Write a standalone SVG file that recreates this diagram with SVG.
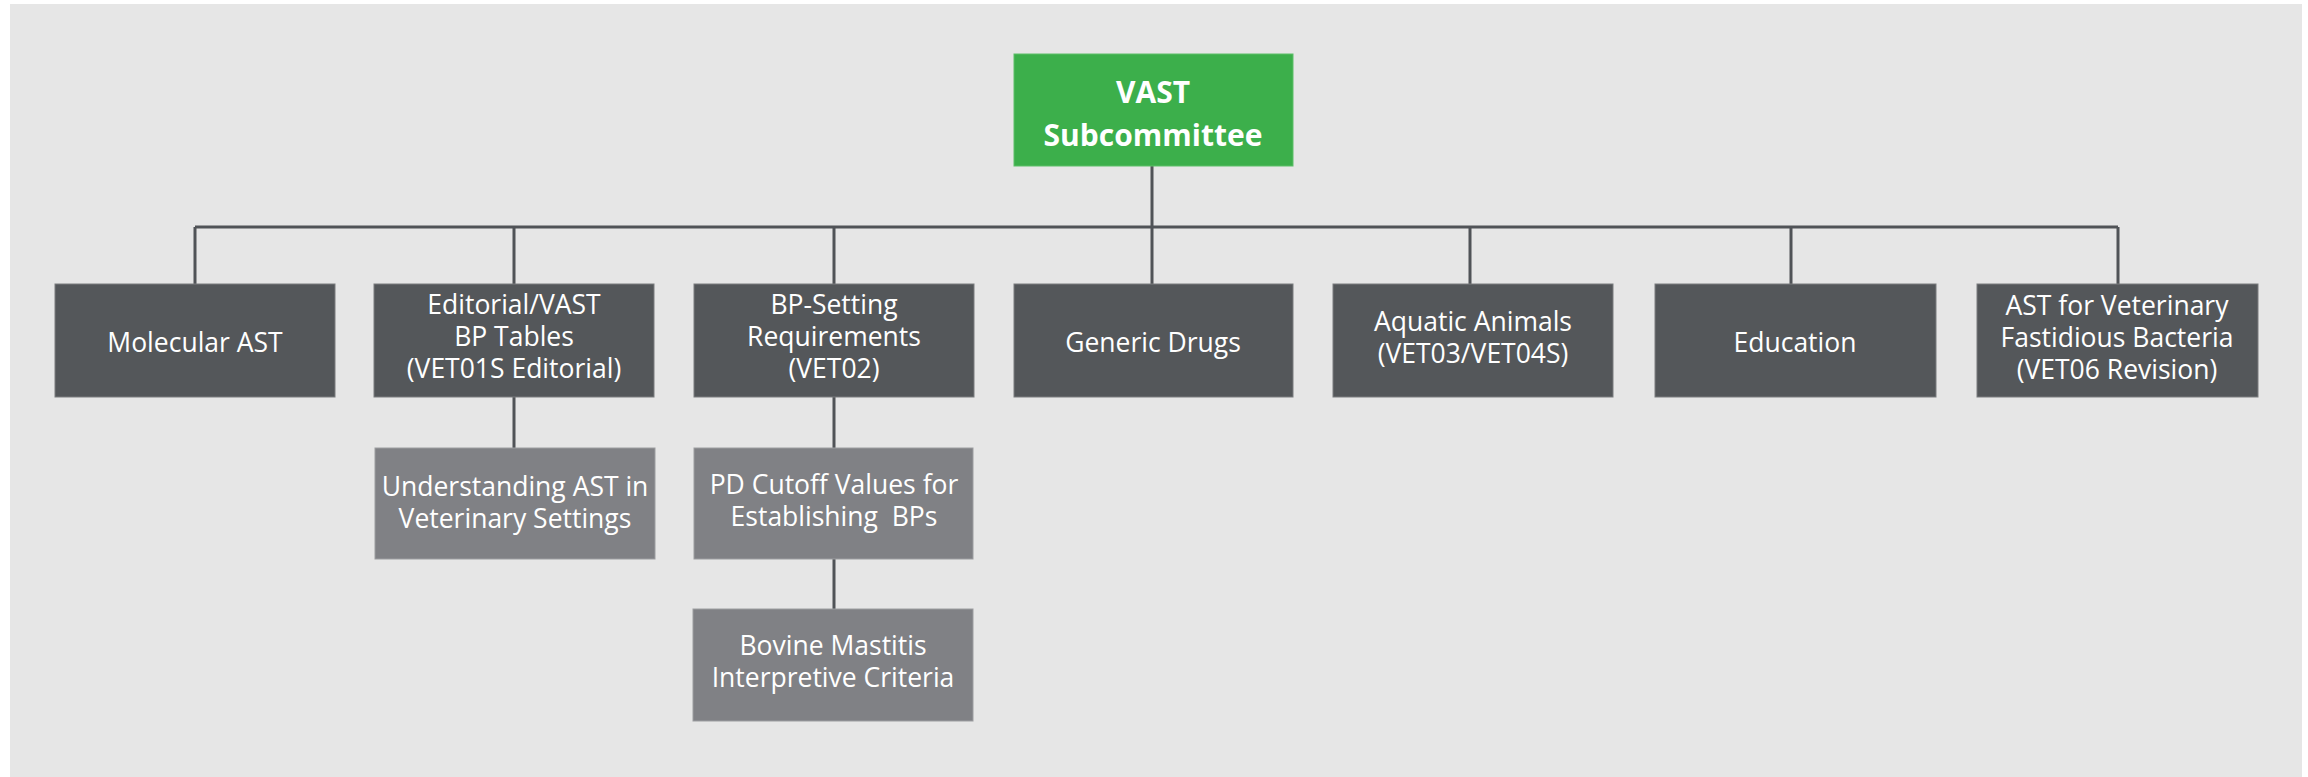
<svg xmlns="http://www.w3.org/2000/svg" width="2308" height="777" viewBox="0 0 2308 777">
<style>
.bg{fill:#ffffff}
.panel{fill:#e6e6e6}
.root{fill:#3caf4b;stroke:#5cbf68;stroke-width:1}
.dark{fill:#54575a;stroke:#7a7c7f;stroke-width:1}
.light{fill:#808185;stroke:#9c9da0;stroke-width:1}
.t{font-family:"Open Sans","Noto Sans","Liberation Sans",sans-serif;font-size:26.5px;fill:#ffffff;text-anchor:middle}
.tb{font-family:"Open Sans","Noto Sans","Liberation Sans",sans-serif;font-size:30px;font-weight:bold;fill:#ffffff;text-anchor:middle}
.c{fill:none;stroke:#505357;stroke-width:3}
</style>
<rect class="bg" x="0" y="0" width="2308" height="777"/>
<rect class="panel" x="10" y="4" width="2292" height="773"/>
<g id="connectors">
<path class="c" d="M1152 166V227M195 227H2118M195 227V284M514 227V284M834 227V284M1152 227V284M1470 227V284M1791 227V284M2118 227V284"/>
<path class="c" d="M514 397V448M834 397V448M834 559V609"/>
</g>
<g id="vast">
<rect class="root" x="1014" y="54" width="279" height="112"/>
<text class="tb" x="1153" y="103">VAST</text>
<text class="tb" x="1153" y="146">Subcommittee</text>
</g>
<g id="molecular">
<rect class="dark" x="55" y="284" width="280" height="113"/>
<text class="t" x="195" y="352">Molecular AST</text>
</g>
<g id="editorial">
<rect class="dark" x="374" y="284" width="280" height="113"/>
<text class="t" x="514" y="314">Editorial/VAST</text>
<text class="t" x="514" y="346">BP Tables</text>
<text class="t" x="514" y="378">(VET01S Editorial)</text>
</g>
<g id="bpsetting">
<rect class="dark" x="694" y="284" width="280" height="113"/>
<text class="t" x="834" y="314">BP-Setting</text>
<text class="t" x="834" y="346">Requirements</text>
<text class="t" x="834" y="378">(VET02)</text>
</g>
<g id="generic">
<rect class="dark" x="1014" y="284" width="279" height="113"/>
<text class="t" x="1153" y="352">Generic Drugs</text>
</g>
<g id="aquatic">
<rect class="dark" x="1333" y="284" width="280" height="113"/>
<text class="t" x="1473" y="331">Aquatic Animals</text>
<text class="t" x="1473" y="363">(VET03/VET04S)</text>
</g>
<g id="education">
<rect class="dark" x="1655" y="284" width="281" height="113"/>
<text class="t" x="1795" y="352">Education</text>
</g>
<g id="fastidious">
<rect class="dark" x="1977" y="284" width="281" height="113"/>
<text class="t" x="2117" y="315">AST for Veterinary</text>
<text class="t" x="2117" y="347">Fastidious Bacteria</text>
<text class="t" x="2117" y="379">(VET06 Revision)</text>
</g>
<g id="understanding">
<rect class="light" x="375" y="448" width="280" height="111"/>
<text class="t" x="515" y="496">Understanding AST in</text>
<text class="t" x="515" y="528">Veterinary Settings</text>
</g>
<g id="pdcutoff">
<rect class="light" x="694" y="448" width="279" height="111"/>
<text class="t" x="834" y="494">PD Cutoff Values for</text>
<text class="t" x="834" y="526" xml:space="preserve">Establishing  BPs</text>
</g>
<g id="bovine">
<rect class="light" x="693" y="609" width="280" height="112"/>
<text class="t" x="833" y="655">Bovine Mastitis</text>
<text class="t" x="833" y="687">Interpretive Criteria</text>
</g>
</svg>
